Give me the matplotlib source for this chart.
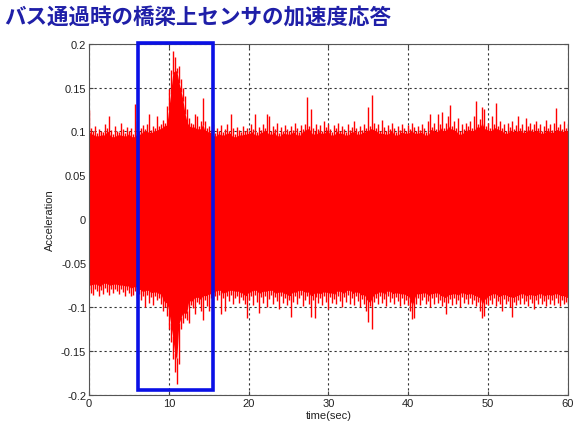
import numpy as np
import matplotlib
matplotlib.use("Agg")
import matplotlib.pyplot as plt
from matplotlib.patches import Rectangle

plt.rcParams['font.family'] = ['Liberation Sans', 'DejaVu Sans']

# peak acceleration every 0.25 s, in 1/1000 units
t_step = 0.25
upper_peak = [
    124, 104, 100, 106, 98, 103, 101, 99, 108, 104, 118, 102, 97, 106, 100, 99, 110, 103, 98, 105,
    101, 104, 97, 131, 112, 100, 104, 107, 103, 108, 120, 102, 106, 104, 118, 106, 108, 113, 110, 129,
    148, 170, 192, 185, 172, 175, 160, 150, 140, 125, 115, 110, 108, 120, 118, 106, 112, 138, 112, 104,
    106, 102, 109, 98, 104, 101, 107, 99, 103, 108, 101, 120, 104, 97, 105, 102, 99, 106, 100, 104,
    101, 108, 103, 120, 99, 105, 102, 109, 104, 120, 117, 100, 106, 103, 110, 98, 105, 101, 107, 103,
    100, 106, 102, 110, 104, 99, 107, 103, 108, 139, 106, 125, 104, 100, 109, 103, 107, 101, 112, 105,
    108, 103, 99, 107, 104, 110, 101, 106, 103, 99, 108, 102, 105, 112, 104, 100, 106, 102, 109, 104,
    128, 106, 141, 110, 104, 108, 101, 113, 105, 100, 107, 103, 110, 104, 99, 106, 102, 108, 104, 101,
    107, 103, 110, 105, 101, 106, 102, 108, 104, 99, 112, 120, 105, 110, 103, 120, 108, 122, 104, 110,
    118, 130, 106, 112, 104, 115, 100, 108, 103, 110, 106, 112, 104, 118, 135, 108, 114, 128, 125, 106,
    110, 104, 118, 108, 132, 106, 112, 104, 108, 101, 110, 105, 112, 103, 107, 118, 104, 109, 102, 115,
    106, 110, 103, 108, 112, 104, 109, 101, 106, 113, 104, 108, 102, 110, 127, 105, 109, 103, 112, 104,
    108,
]
lower_peak = [
    80, 84, 86, 79, 82, 88, 81, 85, 78, 83, 86, 80, 84, 79, 82, 85, 80, 83, 87, 81,
    84, 88, 86, 82, 90, 85, 92, 88, 100, 86, 95, 89, 98, 88, 92, 90, 96, 105, 100, 110,
    125, 140, 159, 174, 188, 165, 125, 118, 112, 115, 118, 98, 101, 108, 94, 97, 104, 115, 92, 99,
    105, 90, 96, 88, 92, 86, 108, 90, 105, 88, 93, 86, 96, 90, 87, 95, 89, 92, 97, 113,
    92, 88, 98, 86, 94, 107, 89, 95, 87, 100, 91, 86, 96, 89, 93, 102, 88, 95, 90, 98,
    92, 111, 94, 88, 97, 90, 86, 99, 92, 88, 96, 111, 92, 112, 89, 95, 90, 98, 88, 94,
    102, 89, 95, 91, 97, 87, 93, 100, 89, 94, 86, 96, 90, 98, 88, 93, 100, 91, 96, 104,
    117, 99, 125, 94, 90, 97, 88, 95, 91, 99, 87, 94, 90, 97, 89, 93, 99, 90, 96, 92,
    98, 104, 114, 112, 96, 90, 98, 92, 89, 97, 93, 100, 90, 96, 89, 95, 92, 99, 94, 108,
    95, 91, 98, 90, 96, 92, 100, 89, 95, 91, 97, 90, 96, 92, 99, 94, 104, 113, 110, 96,
    98, 92, 96, 90, 99, 93, 97, 104, 91, 96, 93, 100, 111, 94, 98, 92, 96, 90, 97, 93,
    99, 91, 95, 102, 92, 97, 90, 96, 93, 99, 91, 96, 92, 98, 90, 95, 99, 92, 97, 94,
    96,
]
x_ticks = [0, 10, 20, 30, 40, 50, 60]
y_ticks = [-0.2, -0.15, -0.1, -0.05, 0, 0.05, 0.1, 0.15, 0.2]
y_ticklabels = ['-0.2', '-0.15', '-0.1', '-0.05', '0', '0.05', '0.1', '0.15', '0.2']
bus_window = (6.2, 15.5)   # time span of the bus crossing

up = np.array(upper_peak) / 1000.0
lo = -np.array(lower_peak) / 1000.0
t = np.arange(len(up)) * t_step

# solid body of the trace: the lowest peak among neighbours
def rolling_min(a, w):
    pad = np.pad(a, w // 2, mode='edge')
    return np.array([pad[i:i + w].min() for i in range(len(a))])

core_hi = rolling_min(up, 3) - 0.003
core_lo = -(rolling_min(-lo, 3) - 0.005)

fig = plt.figure(figsize=(5.74, 4.27), dpi=100)
ax = fig.add_axes([0.155, 0.073, 0.8345, 0.8225])

RED = '#ff0000'
ax.fill_between(t, core_lo, core_hi, color=RED, lw=0, zorder=2)
ax.vlines(t, core_hi - 0.002, up, colors=RED, lw=1.0, zorder=2)
ax.vlines(t, lo, core_lo + 0.002, colors=RED, lw=1.0, zorder=2)

ax.add_patch(Rectangle((bus_window[0], -0.195), bus_window[1] - bus_window[0], 0.396,
                       fill=False, edgecolor='#0a10e6', lw=2.6, zorder=5, clip_on=False))

ax.set_xlim(0, 60)
ax.set_ylim(-0.2, 0.2)
ax.set_xticks(x_ticks)
ax.set_yticks(y_ticks)
ax.set_yticklabels(y_ticklabels)
ax.tick_params(direction='in', top=True, right=True, labelsize=8, length=3,
               color='#444444', labelcolor='#222222', pad=2)
ax.grid(True, color='#333333', linestyle=(0, (2, 2.5)), lw=0.8, zorder=1)
ax.set_axisbelow(True)
for s in ax.spines.values():
    s.set_color('#555555')
    s.set_linewidth(0.8)

ax.set_xlabel('time(sec)', fontsize=8, color='#222222', labelpad=2)
ax.set_ylabel('Acceleration', fontsize=8, color='#222222', labelpad=4)

fig.text(0.008, 0.958, 'バス通過時の橋梁上センサの加速度応答', fontsize=15.5,
         fontweight='bold', color='#1f1fa8', va='center', ha='left',
         family=['Noto Sans CJK JP', 'DejaVu Sans'])

fig.savefig('out.png', dpi=100)
